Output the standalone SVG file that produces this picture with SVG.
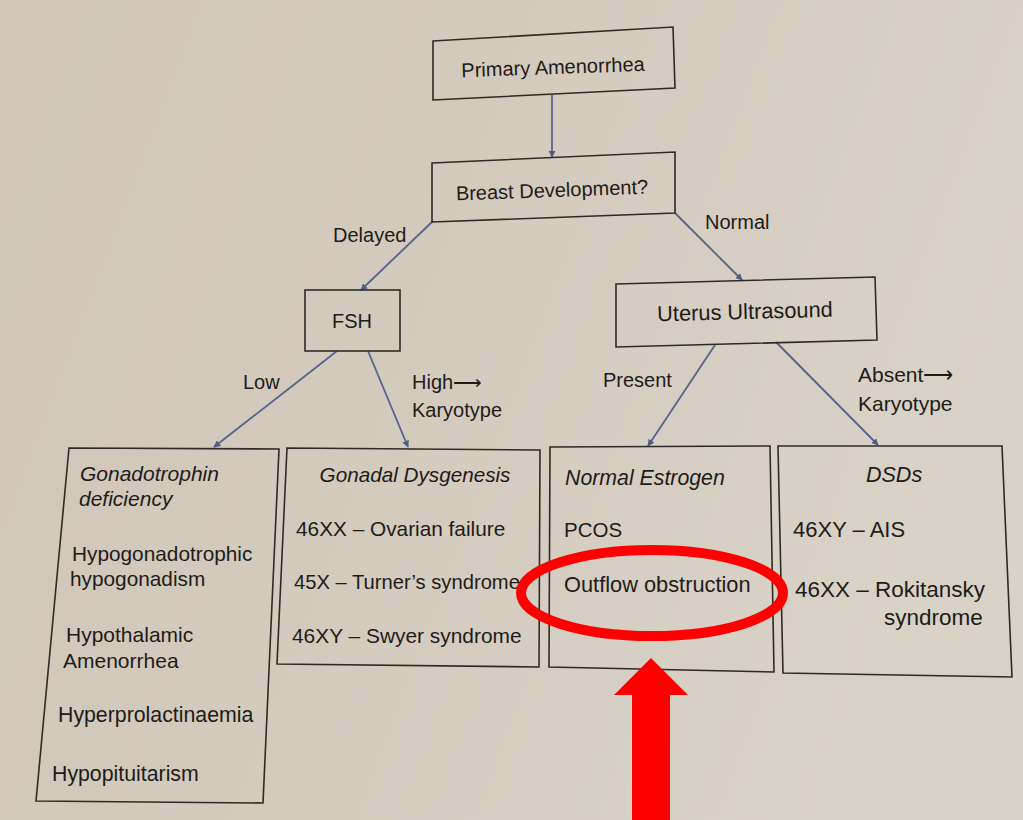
<svg xmlns="http://www.w3.org/2000/svg" width="1023" height="820" viewBox="0 0 1023 820">
<defs>
<linearGradient id="bg" x1="0" y1="0" x2="1" y2="0.3">
<stop offset="0" stop-color="#cfc6b8"/>
<stop offset="0.5" stop-color="#d3cbbe"/>
<stop offset="1" stop-color="#d9d2c7"/>
</linearGradient>
<marker id="ah" viewBox="0 0 10 10" refX="9" refY="5" markerWidth="7" markerHeight="7" orient="auto" markerUnits="userSpaceOnUse">
<path d="M0,0 L10,5 L0,10 Z" fill="#4f5d86"/>
</marker>
<style>
.box{fill:none;stroke:#2e2a27;stroke-width:1.6}
.t{font-family:"Liberation Sans",Arial,sans-serif;font-size:20px;fill:#1f1b18}
.i{font-style:italic}
.c{text-anchor:middle}
.con{stroke:#56638c;stroke-width:1.8;fill:none;marker-end:url(#ah)}
</style>
</defs>
<rect width="1023" height="820" fill="url(#bg)"/>

<g id="connectors">
<line class="con" x1="552" y1="95" x2="552" y2="157"/>
<line class="con" x1="433" y1="221" x2="361" y2="290"/>
<line class="con" x1="675" y1="213" x2="742" y2="280"/>
<line class="con" x1="337" y1="351" x2="214" y2="447"/>
<line class="con" x1="368" y1="351" x2="408" y2="447"/>
<line class="con" x1="715" y1="345" x2="648" y2="446"/>
<line class="con" x1="776" y1="342" x2="878" y2="445"/>
<text class="t" x="333" y="242">Delayed</text>
<text class="t" x="705" y="229">Normal</text>
<text class="t" x="243" y="389">Low</text>
<text class="t" x="412" y="389">High⟶</text>
<text class="t" x="412" y="417">Karyotype</text>
<text class="t" x="603" y="387">Present</text>
<text class="t" x="858" y="382" style="font-size:21px">Absent⟶</text>
<text class="t" x="858" y="411" style="font-size:21px">Karyotype</text>
</g>

<g id="primary">
<polygon class="box" points="433,41 673,27 675,88 433,100"/>
<text class="t c" x="553" y="74" transform="rotate(-2 553 67)">Primary Amenorrhea</text>
</g>
<g id="breast">
<polygon class="box" points="432,163 675,152 675,213 432,222"/>
<text class="t c" x="552" y="197" transform="rotate(-2 552 190)">Breast Development?</text>
</g>
<g id="fsh">
<rect class="box" x="305" y="290" width="95" height="61"/>
<text class="t c" x="352" y="328">FSH</text>
</g>
<g id="uterus">
<polygon class="box" points="616,284 875,277 877,340 616,347"/>
<text class="t c" x="745" y="319" transform="rotate(-1.5 745 312)" style="font-size:21.8px">Uterus Ultrasound</text>
</g>

<g id="gonadotrophin">
<polygon class="box" points="69,448 279,449 263,803 36,801"/>
<text class="t i" x="80" y="481" style="font-size:21px">Gonadotrophin</text>
<text class="t i" x="79" y="506" style="font-size:21px">deficiency</text>
<text class="t" x="72" y="561" style="font-size:20.8px">Hypogonadotrophic</text>
<text class="t" x="70" y="586" style="font-size:20.8px">hypogonadism</text>
<text class="t" x="66" y="642" style="font-size:21px">Hypothalamic</text>
<text class="t" x="63" y="668" style="font-size:21px">Amenorrhea</text>
<text class="t" x="58" y="722" style="font-size:21.3px">Hyperprolactinaemia</text>
<text class="t" x="52" y="781" style="font-size:21.3px">Hypopituitarism</text>
</g>

<g id="gonadal">
<polygon class="box" points="287,448 540,450 539,667 277,664"/>
<text class="t i c" x="415" y="482" style="font-size:20.7px">Gonadal Dysgenesis</text>
<text class="t" x="296" y="536" style="font-size:20.8px">46XX – Ovarian failure</text>
<text class="t" x="294" y="589" style="font-size:20.2px">45X – Turner’s syndrome</text>
<text class="t" x="292" y="643" style="font-size:20.9px">46XY – Swyer syndrome</text>
</g>

<g id="normal">
<polygon class="box" points="550,447 770,446 774,672 549,667"/>
<text class="t i" x="565" y="485" style="font-size:21.3px">Normal Estrogen</text>
<text class="t" x="564" y="537" style="font-size:20.5px">PCOS</text>
<text class="t" x="564" y="592" style="font-size:21.8px">Outflow obstruction</text>
</g>

<g id="dsds">
<polygon class="box" points="778,446 1002,446 1012,677 783,673"/>
<text class="t i" x="866" y="482" style="font-size:21.5px">DSDs</text>
<text class="t" x="793" y="537" style="font-size:22px">46XY – AIS</text>
<text class="t" x="795" y="597" style="font-size:22.5px">46XX – Rokitansky</text>
<text class="t" x="884" y="625" style="font-size:22.5px">syndrome</text>
</g>

<g id="highlight">
<ellipse cx="652" cy="593" rx="131" ry="43" fill="none" stroke="#ff0000" stroke-width="10"/>
<polygon points="614,695 651,658 688,695 670,695 670,820 632,820 632,695" fill="#ff0000"/>
</g>
</svg>
